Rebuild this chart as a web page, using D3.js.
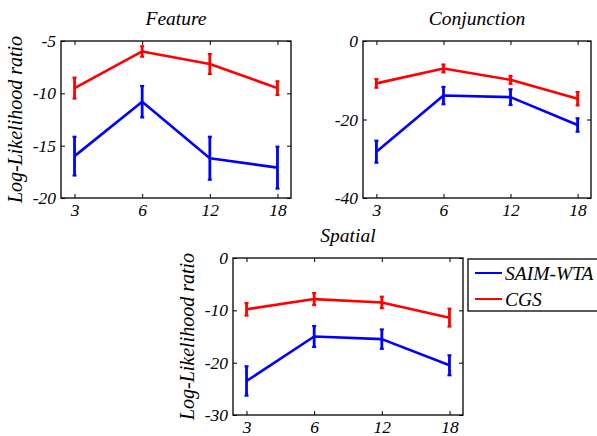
<!DOCTYPE html>
<html>
<head>
<meta charset="utf-8">
<script src="https://cdn.jsdelivr.net/npm/d3@7"></script>
<style>
  html, body { margin: 0; padding: 0; background: #fff; }
  svg { display: block; }
</style>
</head>
<body>
<svg id="chart" width="597" height="436"></svg>
<script>
// Set sizes on the x axis
const setSizes = ["3", "6", "12", "18"];
const seriesNames = ["SAIM-WTA", "CGS"];
const seriesColors = ["#0000ff", "#ff0000"];

// Feature search
const featureSaim    = [-16.0, -10.8, -16.2, -17.1];
const featureSaimErr = [1.85, 1.5, 2.05, 2.0];
const featureCgs     = [-9.5, -6.0, -7.2, -9.5];
const featureCgsErr  = [1.0, 0.5, 0.95, 0.65];
const featureTicks   = [-5, -10, -15, -20];

// Conjunction search
const conjSaim    = [-28.2, -13.9, -14.3, -21.4];
const conjSaimErr = [2.8, 2.2, 2.0, 1.7];
const conjCgs     = [-10.8, -7.0, -9.9, -14.7];
const conjCgsErr  = [1.1, 1.0, 1.0, 1.7];
const conjTicks   = [0, -20, -40];

// Spatial search
const spatialSaim    = [-23.5, -15.0, -15.5, -20.5];
const spatialSaimErr = [2.8, 2.0, 1.85, 1.9];
const spatialCgs     = [-9.8, -7.85, -8.5, -11.4];
const spatialCgsErr  = [1.2, 1.15, 1.1, 1.7];
const spatialTicks   = [0, -10, -20, -30];

const yLabel = "Log-Likelihood ratio";

const FONT = '"Liberation Serif", "Times New Roman", serif';

const panels = [
  { title: "Feature", x0: 61, x1: 291, y0: 41, y1: 198, domain: [-20, -5], ticks: featureTicks,
    series: [[featureSaim, featureSaimErr], [featureCgs, featureCgsErr]], showYLabel: true },
  { title: "Conjunction", x0: 363, x1: 591, y0: 41, y1: 198, domain: [-40, 0], ticks: conjTicks,
    series: [[conjSaim, conjSaimErr], [conjCgs, conjCgsErr]], showYLabel: false },
  { title: "Spatial", x0: 233, x1: 463, y0: 258, y1: 415, domain: [-30, 0], ticks: spatialTicks,
    series: [[spatialSaim, spatialSaimErr], [spatialCgs, spatialCgsErr]], showYLabel: true }
];

const svg = d3.select("#chart");

const serifText = (sel, size) => sel
  .attr("font-family", null)
  .style("font-family", FONT)
  .style("font-style", "italic")
  .style("font-size", size + "px")
  .attr("fill", "#000");

panels.forEach(p => {
  const g = svg.append("g");
  const x = d3.scalePoint().domain(setSizes).range([p.x0, p.x1]).padding(0.2);
  const y = d3.scaleLinear().domain(p.domain).range([p.y1, p.y0]);

  // data: lines and error bars
  p.series.forEach(([vals, errs], si) => {
    const color = seriesColors[si];
    const pts = setSizes.map((c, i) => ({ c, v: vals[i], e: errs[i] }));
    g.append("path")
      .datum(pts)
      .attr("fill", "none")
      .attr("stroke", color)
      .attr("stroke-width", 2.6)
      .attr("stroke-linejoin", "round")
      .attr("d", d3.line().x(d => x(d.c)).y(d => y(d.v)));
    const eb = g.append("g").attr("stroke", color).attr("stroke-width", 2.8);
    pts.forEach(d => {
      const cx = x(d.c);
      eb.append("line").attr("x1", cx).attr("x2", cx).attr("y1", y(d.v + d.e)).attr("y2", y(d.v - d.e));
      eb.append("line").attr("x1", cx - 2).attr("x2", cx + 2).attr("y1", y(d.v + d.e)).attr("y2", y(d.v + d.e)).attr("stroke-width", 2.2);
      eb.append("line").attr("x1", cx - 2).attr("x2", cx + 2).attr("y1", y(d.v - d.e)).attr("y2", y(d.v - d.e)).attr("stroke-width", 2.2);
    });
  });

  // axes with inward ticks on all four sides
  const axStyle = sel => {
    sel.attr("font-family", null);
    sel.select(".domain").remove();
    sel.selectAll(".tick line").attr("stroke", "#000").attr("stroke-width", 1);
    sel.selectAll("text").call(serifText, 17.5);
  };
  g.append("g").attr("transform", `translate(0,${p.y1})`)
    .call(d3.axisBottom(x).tickSizeInner(-4).tickSizeOuter(0).tickPadding(6))
    .call(axStyle);
  g.append("g").attr("transform", `translate(0,${p.y0})`)
    .call(d3.axisTop(x).tickSizeInner(-4).tickSizeOuter(0).tickFormat(""))
    .call(axStyle);
  g.append("g").attr("transform", `translate(${p.x0},0)`)
    .call(d3.axisLeft(y).tickValues(p.ticks).tickSizeInner(-4).tickSizeOuter(0).tickPadding(5).tickFormat(d3.format("d")))
    .call(axStyle)
    .call(s => s.selectAll("text").text(d => String(d)));
  g.append("g").attr("transform", `translate(${p.x1},0)`)
    .call(d3.axisRight(y).tickValues(p.ticks).tickSizeInner(-4).tickSizeOuter(0).tickFormat(""))
    .call(axStyle);

  // box
  g.append("rect")
    .attr("x", p.x0).attr("y", p.y0)
    .attr("width", p.x1 - p.x0).attr("height", p.y1 - p.y0)
    .attr("fill", "none").attr("stroke", "#000").attr("stroke-width", 1.3);

  // title
  g.append("text")
    .attr("x", (p.x0 + p.x1) / 2)
    .attr("y", p.y0 - 16)
    .attr("text-anchor", "middle")
    .call(serifText, 19.5)
    .text(p.title);

  if (p.showYLabel) {
    g.append("text")
      .attr("transform", `translate(${p.x0 - 39},${(p.y0 + p.y1) / 2}) rotate(-90)`)
      .attr("text-anchor", "middle")
      .call(serifText, 20)
      .text(yLabel);
  }
});

// legend beside the spatial panel
const leg = svg.append("g");
leg.append("rect")
  .attr("x", 468).attr("y", 259).attr("width", 140).attr("height", 52)
  .attr("fill", "#fff").attr("stroke", "#000").attr("stroke-width", 1.3);
seriesNames.forEach((name, i) => {
  const ly = 273 + i * 26;
  leg.append("line")
    .attr("x1", 475).attr("x2", 502).attr("y1", ly).attr("y2", ly)
    .attr("stroke", seriesColors[i]).attr("stroke-width", 2);
  leg.append("text")
    .attr("x", 505).attr("y", ly)
    .attr("dy", "0.35em")
    .call(serifText, 19.5)
    .text(name);
});
</script>
</body>
</html>
